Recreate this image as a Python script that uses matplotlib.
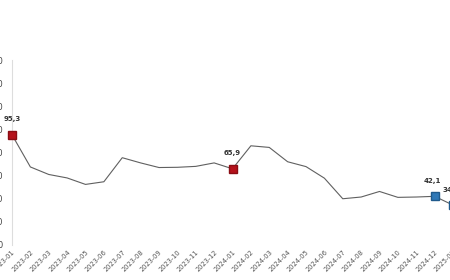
import matplotlib
matplotlib.use("Agg")
import matplotlib.pyplot as plt

months = ["2023-01", "2023-02", "2023-03", "2023-04", "2023-05", "2023-06",
          "2023-07", "2023-08", "2023-09", "2023-10", "2023-11", "2023-12",
          "2024-01", "2024-02", "2024-03", "2024-04", "2024-05", "2024-06",
          "2024-07", "2024-08", "2024-09", "2024-10", "2024-11", "2024-12",
          "2025-01"]
values = [95.3, 67.5, 61.0, 58.0, 52.4, 54.7,
          75.5, 71.0, 67.0, 67.2, 68.0, 71.0,
          65.9, 85.8, 84.4, 72.0, 67.8, 57.8,
          40.0, 41.5, 46.3, 41.2, 41.5, 42.1,
          34.5]
yticks = [0, 20, 40, 60, 80, 100, 120, 140, 160]

# highlighted points: index -> marker colour
red_idx = [0, 12]
blue_idx = [23, 24]

fig = plt.figure(figsize=(4.5, 2.8), dpi=100)
ax = fig.add_axes([12 / 450, 35 / 280, 450.2 / 450, 185 / 280])

x = list(range(len(values)))
ax.plot(x, values, color="#606060", linewidth=0.8, zorder=2)

for i in red_idx:
    ax.plot(x[i], values[i], "s", color="#b5121b", markeredgecolor="#8a0d14",
            markersize=5.8, zorder=3, clip_on=False)
for i in blue_idx:
    ax.plot(x[i], values[i], "s", color="#2f78b7", markeredgecolor="#1f5a8c",
            markersize=5.8, zorder=3, clip_on=False)

for i in red_idx + blue_idx:
    ax.annotate(f"{values[i]:.1f}".replace(".", ","), (x[i], values[i]),
                xytext=(-1.5 if i in blue_idx else 0, 9), textcoords="offset points",
                ha="center", va="bottom", fontsize=5, fontweight="bold",
                color="#333333")

ax.set_xlim(0, 24.5)
ax.set_ylim(0, 160)
ax.set_yticks(yticks)
ax.set_yticklabels([str(v) for v in yticks], fontsize=6, color="#444444")
ax.set_xticks(x)
ax.set_xticklabels(months, rotation=45, ha="right", rotation_mode="anchor",
                   fontsize=4.8, color="#555555")
ax.tick_params(axis="both", length=0)
ax.tick_params(axis="y", pad=6.5)
ax.tick_params(axis="x", pad=3)

for side in ["top", "right", "bottom"]:
    ax.spines[side].set_visible(False)
ax.spines["left"].set_color("#dddddd")
ax.spines["left"].set_linewidth(0.8)

fig.savefig("out.png", dpi=100)
plt.close(fig)
